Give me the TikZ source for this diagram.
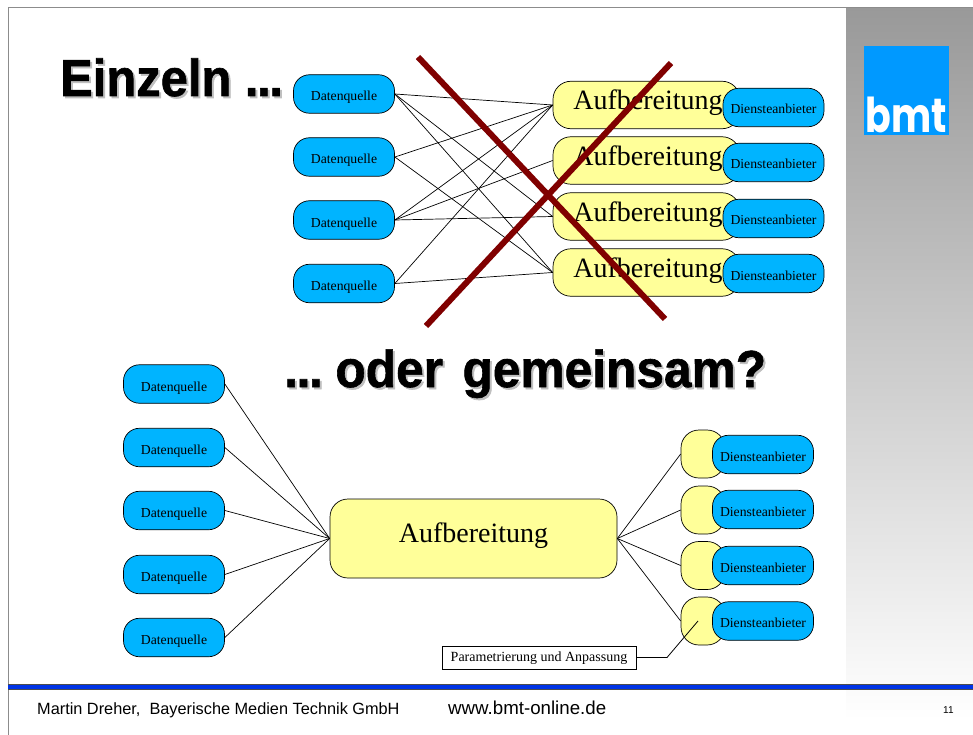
\documentclass[tikz,border=0pt]{standalone}
\usepackage{xcolor}
\usepackage{fontspec}
\setmainfont{Liberation Serif}
\newfontfamily\headfont{Liberation Sans}
\newfontfamily\titlefont{Liberation Sans Bold}[FakeBold=1.2]
\newfontfamily\logofont{Poppins}
\definecolor{quellblue}{HTML}{00B4FF}
\definecolor{aufyellow}{HTML}{FFFF99}
\definecolor{crossred}{HTML}{800000}
\definecolor{logoblue}{HTML}{0099FF}
\definecolor{ruleblue}{HTML}{0033E6}
\tikzset{
	quelle/.style={draw, line width=0.7pt, rounded corners=16pt, fill=quellblue, minimum width=101pt, minimum height=38.5pt, inner sep=0pt, text height=14pt, text depth=0pt, font=\fontsize{13.7}{14}\selectfont},
	anbieter/.style={quelle, text height=13pt},
	aufb/.style={draw, line width=0.7pt, rounded corners=18pt, fill=aufyellow, minimum width=187pt, minimum height=47.5pt, inner sep=0pt},
	aufbsmall/.style={aufb, minimum width=44pt, minimum height=48pt},
	cross/.style={crossred, line width=6pt},
	link/.style={line width=0.7pt},
	heading/.style={font=\titlefont\fontsize{52}{54}\selectfont, inner sep=0pt, anchor=base west},
	footer/.style={font=\headfont\fontsize{16.3}{17}\selectfont, inner sep=0pt, anchor=base west}
}
\newcommand{\auftext}{\raisebox{-5pt}[0pt][0pt]{\kern3pt\fontsize{28}{28}\selectfont Aufbereitung}}
\newcommand{\einzelntext}{\scalebox{0.94}[1]{Einzeln .\kern-1.5pt.\kern-1.5pt.}}
\newcommand{\gemeinsamtext}{\scalebox{0.955}[1]{.\kern-1.5pt.\kern-1.5pt.\kern-6pt{} oder\kern6pt{} gemeinsam?}}
\begin{document}
\begin{tikzpicture}[x=1pt, y=-1pt]
	\useasboundingbox (0,0) rectangle (973,735);
	% Background
	\fill[white] (0,0) rectangle (973,735);
	\shade[top color=black!40, bottom color=white] (846,7.5) rectangle (973,720);
	\draw[black!45, line width=1pt] (8.5,735) -- (8.5,7.5) -- (973,7.5);
	\fill[logoblue] (864,46) rectangle (949,135);
	\node[text=white, inner sep=0pt, anchor=base, font=\logofont\bfseries\fontsize{48}{48}\selectfont] (logo) at (906,133) {\scalebox{0.79}[1]{bmt}};

	% Headings
	\node[heading, text=black!25] (einzelnshadow) at (62,98) {\einzelntext};
	\node[heading] (einzeln) at (60,96) {\einzelntext};
	\node[heading, text=black!25] (gemeinsamshadow) at (286,389) {\gemeinsamtext};
	\node[heading] (gemeinsam) at (284,387) {\gemeinsamtext};

	% Nodes, upper part
	\node[quelle] (q1) at (344,94) {Datenquelle};
	\node[quelle] (q2) at (344,157) {Datenquelle};
	\node[quelle] (q3) at (344,220) {Datenquelle};
	\node[quelle] (q4) at (344,283.5) {Datenquelle};
	\node[aufb] (a1) at (646.5,105) {\auftext};
	\node[aufb] (a2) at (646.5,160.5) {\auftext};
	\node[aufb] (a3) at (646.5,216.5) {\auftext};
	\node[aufb] (a4) at (646.5,272.5) {\auftext};
	\node[anbieter] (d1) at (773.5,107.5) {Diensteanbieter};
	\node[anbieter] (d2) at (773.5,162.5) {Diensteanbieter};
	\node[anbieter] (d3) at (773.5,218.5) {Diensteanbieter};
	\node[anbieter] (d4) at (773.5,273.5) {Diensteanbieter};

	% Edges, upper part
	\draw[link] (q1.east) -- (a1.west);
	\draw[link] (q1.east) -- (a3.west);
	\draw[link] (q1.east) -- (a4.west);
	\draw[link] (q2.east) -- (a1.west);
	\draw[link] (q2.east) -- (a4.west);
	\draw[link] (q3.east) -- (a1.west);
	\draw[link] (q3.east) -- (a2.west);
	\draw[link] (q3.east) -- (a3.west);
	\draw[link] (q4.east) -- (a1.west);
	\draw[link] (q4.east) -- (a4.west);

	% Cross
	\coordinate (c1) at (418,57);
	\coordinate (c2) at (665,319);
	\coordinate (c3) at (671,63);
	\coordinate (c4) at (426,326);
	\draw[cross] (c1) -- (c2);
	\draw[cross] (c3) -- (c4);

	% Nodes, lower part
	\node[quelle] (p1) at (174,384) {Datenquelle};
	\node[quelle] (p2) at (174,447.5) {Datenquelle};
	\node[quelle] (p3) at (174,510.5) {Datenquelle};
	\node[quelle] (p4) at (174,574.5) {Datenquelle};
	\node[quelle] (p5) at (174,637.5) {Datenquelle};
	\node[aufb, minimum width=287pt, minimum height=79pt] (main) at (473.5,538.5) {\raisebox{-3.5pt}[0pt][0pt]{\fontsize{28}{28}\selectfont Aufbereitung}};
	\node[aufbsmall] (s1) at (703,454) {};
	\node[aufbsmall] (s2) at (703,510) {};
	\node[aufbsmall] (s3) at (703,565.5) {};
	\node[aufbsmall] (s4) at (703,621) {};
	\node[anbieter] (e1) at (763,454.5) {Diensteanbieter};
	\node[anbieter] (e2) at (763,509.5) {Diensteanbieter};
	\node[anbieter] (e3) at (763,565.5) {Diensteanbieter};
	\node[anbieter] (e4) at (763,621) {Diensteanbieter};
	\node[draw, line width=0.8pt, fill=white, minimum width=194pt, minimum height=23pt, inner sep=0pt, text height=8pt, text depth=0pt, font=\fontsize{14}{15}\selectfont] (param) at (539,657.5) {Parametrierung und Anpassung};

	% Edges, lower part
	\draw[link] (p1.east) -- (main.west);
	\draw[link] (p2.east) -- (main.west);
	\draw[link] (p3.east) -- (main.west);
	\draw[link] (p4.east) -- (main.west);
	\draw[link] (p5.east) -- (main.west);
	\draw[link] (main.east) -- (s1.west);
	\draw[link] (main.east) -- (s2.west);
	\draw[link] (main.east) -- (s3.west);
	\draw[link] (main.east) -- (s4.west);
	\coordinate (bend) at (667,657.5);
	\coordinate (tip) at (698,621);
	\draw[line width=0.8pt] (param.east) -- (bend) -- (tip);

	% Footer
	\fill[black!70] (8,684) rectangle (973,689.5);
	\fill[ruleblue] (8,685) rectangle (973,688.5);
	\node[footer] (name) at (37,714) {Martin Dreher,\ \ Bayerische Medien Technik GmbH};
	\node[footer, font=\headfont\fontsize{18.7}{19}\selectfont] (url) at (448,714) {www.bmt-online.de};
	\node[footer, font=\headfont\fontsize{10}{10}\selectfont] (page) at (943,713) {11};
\end{tikzpicture}
\end{document}
